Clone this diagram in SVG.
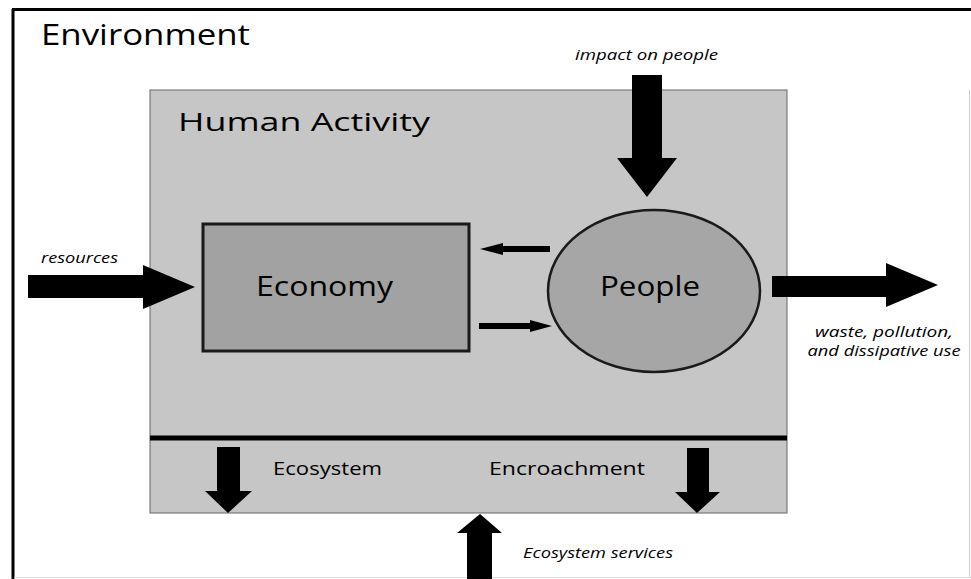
<svg xmlns="http://www.w3.org/2000/svg" width="971" height="579" viewBox="0 0 971 579">
<style>
.t{font-family:"Open Sans","Liberation Sans",sans-serif;fill:#000}
.i{font-family:"Open Sans","Liberation Sans",sans-serif;font-style:italic;fill:#000}
.arr{fill:#000}
</style>
<rect width="971" height="579" fill="#fff"/>
<g id="environment">
<line x1="13" y1="9" x2="13" y2="579" stroke="#000" stroke-width="3"/>
<line x1="12" y1="9.5" x2="971" y2="9.5" stroke="#000" stroke-width="3"/>
<line x1="969.5" y1="90" x2="969.5" y2="577" stroke="#ccc" stroke-width="1"/>
<line x1="14" y1="577.5" x2="971" y2="577.5" stroke="#ddd" stroke-width="1"/>
<text class="t" x="41" y="45" font-size="29" textLength="209" lengthAdjust="spacingAndGlyphs">Environment</text>
</g>
<g id="human-activity">
<rect x="150" y="90" width="637" height="423" fill="#c6c6c6" stroke="#666" stroke-width="1"/>
<line x1="150" y1="438" x2="787" y2="438" stroke="#000" stroke-width="5"/>
<text class="t" x="178" y="131" font-size="26" textLength="252" lengthAdjust="spacingAndGlyphs">Human Activity</text>
<text class="t" x="273" y="475" font-size="19" textLength="109" lengthAdjust="spacingAndGlyphs">Ecosystem</text>
<text class="t" x="489" y="475" font-size="19" textLength="156" lengthAdjust="spacingAndGlyphs">Encroachment</text>
</g>
<g id="economy">
<rect x="203" y="224" width="266" height="127" fill="#a2a2a2" stroke="#1a1a1a" stroke-width="3"/>
<text class="t" x="256" y="296" font-size="28" textLength="137" lengthAdjust="spacingAndGlyphs">Economy</text>
</g>
<g id="people">
<ellipse cx="654" cy="291" rx="106" ry="81" fill="#a6a6a6" stroke="#1a1a1a" stroke-width="2.5"/>
<text class="t" x="600" y="296" font-size="28" textLength="100" lengthAdjust="spacingAndGlyphs">People</text>
</g>
<g id="connectors">
<polygon class="arr" points="28,275 143,275 143,265 195,287 143,309 143,298 28,298"/>
<text class="i" x="41" y="263" font-size="14" textLength="77" lengthAdjust="spacingAndGlyphs">resources</text>
<polygon class="arr" points="632,75 662,75 662,158 677,158 647,197 617,158 632,158"/>
<text class="i" x="575" y="60" font-size="14" textLength="143" lengthAdjust="spacingAndGlyphs">impact on people</text>
<polygon class="arr" points="772,276 886,276 886,263 938,285 886,307 886,297 772,297"/>
<text class="i" x="884" y="337" font-size="14" text-anchor="middle" textLength="138" lengthAdjust="spacingAndGlyphs">waste, pollution,</text>
<text class="i" x="884" y="356" font-size="14" text-anchor="middle" textLength="153" lengthAdjust="spacingAndGlyphs">and dissipative use</text>
<polygon class="arr" points="550,246 503,246 503,243 480,249 503,255 503,252 550,252"/>
<polygon class="arr" points="479,323 530,323 530,320 552,326 530,332 530,329 479,329"/>
<polygon class="arr" points="217,447 240,447 240,491 252,491 228,513 205,491 217,491"/>
<polygon class="arr" points="687,448 709,448 709,492 720,492 697,513 675,492 687,492"/>
<polygon class="arr" points="480,514 502,533 492,533 492,579 467,579 467,533 457,533"/>
<text class="i" x="523" y="558" font-size="15" textLength="150" lengthAdjust="spacingAndGlyphs">Ecosystem services</text>
</g>
</svg>
